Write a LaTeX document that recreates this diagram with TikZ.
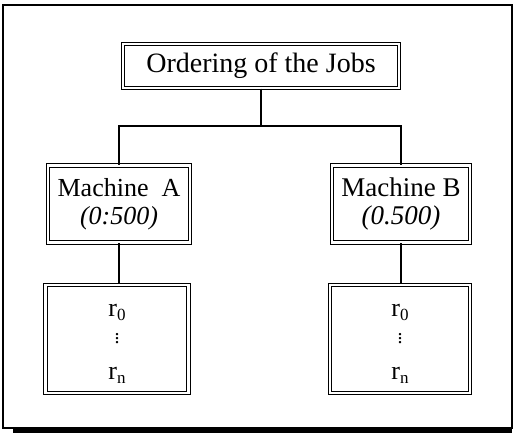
\documentclass[tikz,border=0pt]{standalone}
\usepackage{fontspec}
\setmainfont{Liberation Serif}
\newcommand{\rsub}[1]{r\raisebox{-0.4ex}{\fontsize{17}{17}\selectfont #1}}
% register list; the strut on the first row lowers the column a little
\newcommand{\rlist}{\rule{0pt}{22pt}\rsub{0}\\[-3pt] {\fontsize{20}{20}\selectfont$\vdots$}\\[6pt] \rsub{n}}
\begin{document}
\begin{tikzpicture}[x=1pt,y=-1pt,
  dbox/.style={draw, double, line width=1.1pt, double distance=2.6pt,
    inner sep=0pt, align=center, font=\fontsize{26}{30}\selectfont},
  link/.style={line width=1.1pt}]
\useasboundingbox (0,0) rectangle (516,436);
% outer frame with shadow along the bottom
\draw[line width=1.1pt] (3,5) rectangle (512,428);
\fill (13,428) rectangle (512,433);

% boxes
\node[dbox, minimum width=276pt, minimum height=44pt, font=\fontsize{28}{32}\selectfont]
  (top) at (261,66) {Ordering of the Jobs};
\node[dbox, minimum width=142pt, minimum height=77pt] (ma) at (119,204)
  {Machine\ \ A\\[-2pt] \textit{(0:500)}};
\node[dbox, minimum width=138pt, minimum height=77pt, font=\fontsize{27}{30}\selectfont]
  (mb) at (401,204) {Machine\ B\\[-2pt] \textit{(0.500)}};
\node[dbox, minimum width=143pt, minimum height=108pt] (ra) at (117,339) {\rlist};
\node[dbox, minimum width=140pt, minimum height=108pt] (rb) at (400,339) {\rlist};

% connectors
\coordinate (bus) at (261,126);
\draw[link] (top.south) -- (bus);
\draw[link] (ma.north) |- (bus) -| (mb.north);
\draw[link] (ma.south) -- (ra.north -| ma.south);
\draw[link] (mb.south) -- (rb.north -| mb.south);
\end{tikzpicture}
\end{document}
